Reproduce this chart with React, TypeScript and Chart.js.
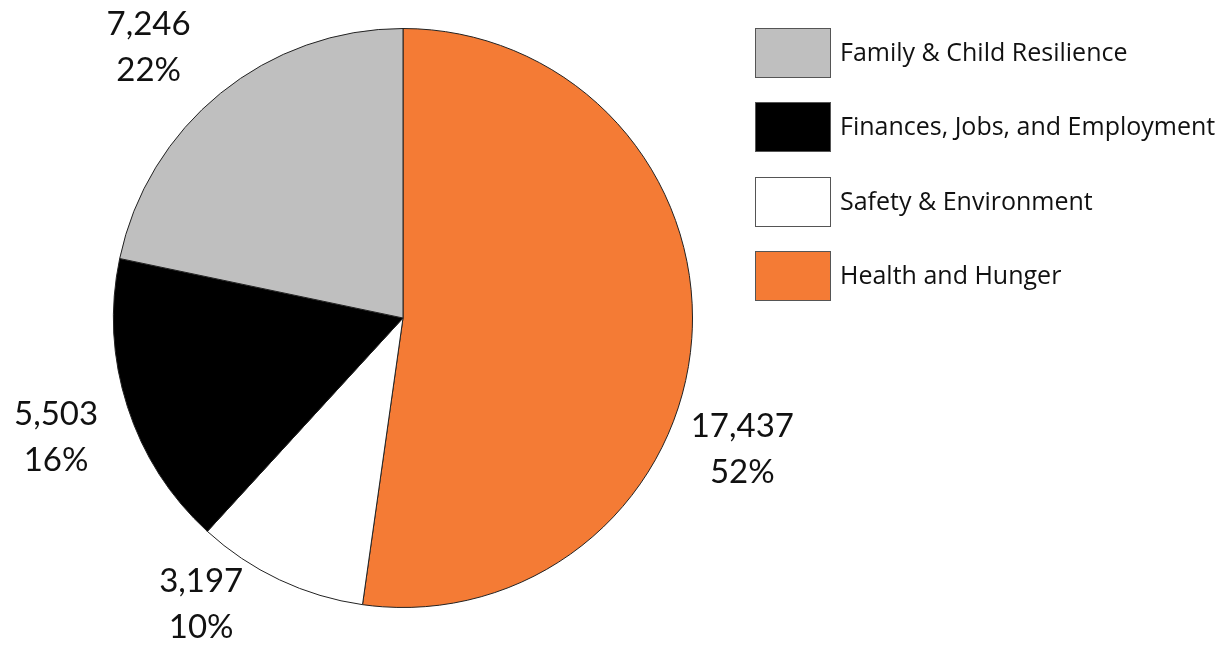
import React, { useEffect, useRef } from "react";
import { Chart, registerables } from "chart.js";

Chart.register(...registerables);

// Data, in drawing order (clockwise from 12 o'clock)
const categories = ["Health and Hunger", "Safety & Environment", "Finances, Jobs, and Employment", "Family & Child Resilience"];
const values = [17437, 3197, 5503, 7246];
const percentLabels = ["52%", "10%", "16%", "22%"];
const colors = ["#F47B35", "#FFFFFF", "#000000", "#BFBFBF"];
// Legend order (top to bottom)
const legendOrder = [3, 2, 1, 0];

// label placement tweaks (degrees shift from slice mid-angle, gap outside radius)
const labelAngleShift = [17, 10, -1, -4];
const labelGap = [74, 60, 77, 83];

const fmt = (v: number) => v.toLocaleString("en-US");

const outsideLabels = {
  id: "outsideLabels",
  afterDatasetsDraw(chart: any) {
    const ctx = chart.ctx;
    const meta = chart.getDatasetMeta(0);
    ctx.save();
    ctx.fillStyle = "#111";
    ctx.font = "33px Lato";
    ctx.textAlign = "center";
    ctx.textBaseline = "middle";
    meta.data.forEach((arc: any, i: number) => {
      const { x, y, startAngle, endAngle, outerRadius } = arc.getProps(["x", "y", "startAngle", "endAngle", "outerRadius"], true);
      const mid = (startAngle + endAngle) / 2 + (labelAngleShift[i] * Math.PI) / 180;
      const d = outerRadius + labelGap[i];
      const cx = x + Math.cos(mid) * d;
      const cy = y + Math.sin(mid) * d;
      ctx.fillText(fmt(values[i]), cx, cy - 22);
      ctx.fillText(percentLabels[i], cx, cy + 24);
    });
    ctx.restore();
  },
};

const customLegend = {
  id: "customLegend",
  afterDraw(chart: any) {
    const ctx = chart.ctx;
    ctx.save();
    const x0 = 755;
    const y0 = 28;
    const step = 74.3;
    const bw = 76;
    const bh = 50;
    ctx.font = "25px 'Open Sans'";
    ctx.textBaseline = "middle";
    ctx.textAlign = "left";
    legendOrder.forEach((idx, row) => {
      const y = Math.round(y0 + row * step);
      ctx.fillStyle = colors[idx];
      ctx.fillRect(x0, y, bw, bh);
      ctx.strokeStyle = "#555";
      ctx.lineWidth = 1;
      ctx.strokeRect(x0 + 0.5, y + 0.5, bw - 1, bh - 1);
      ctx.fillStyle = "#111";
      ctx.fillText(categories[idx], 840, y + bh / 2 + 1);
    });
    ctx.restore();
  },
};

export default function App() {
  const ref = useRef<HTMLCanvasElement>(null);
  useEffect(() => {
    if (!ref.current) return;
    const chart = new Chart(ref.current, {
      type: "pie",
      data: {
        labels: categories,
        datasets: [
          {
            data: values,
            backgroundColor: colors,
            borderColor: "#222",
            borderWidth: 1,
          },
        ],
      },
      options: {
        animation: false,
        responsive: false,
        maintainAspectRatio: false,
        layout: { padding: { left: 113, right: 527, top: 28, bottom: 38 } },
        plugins: {
          legend: { display: false },
          tooltip: { enabled: false },
        },
      },
      plugins: [outsideLabels, customLegend],
    });
    return () => chart.destroy();
  }, []);
  return (
    <div style={{ position: "fixed", left: 0, top: 0, width: 1220, height: 646, background: "#fff" }}>
      <canvas ref={ref} width={1220} height={646} style={{ width: 1220, height: 646 }} />
    </div>
  );
}
